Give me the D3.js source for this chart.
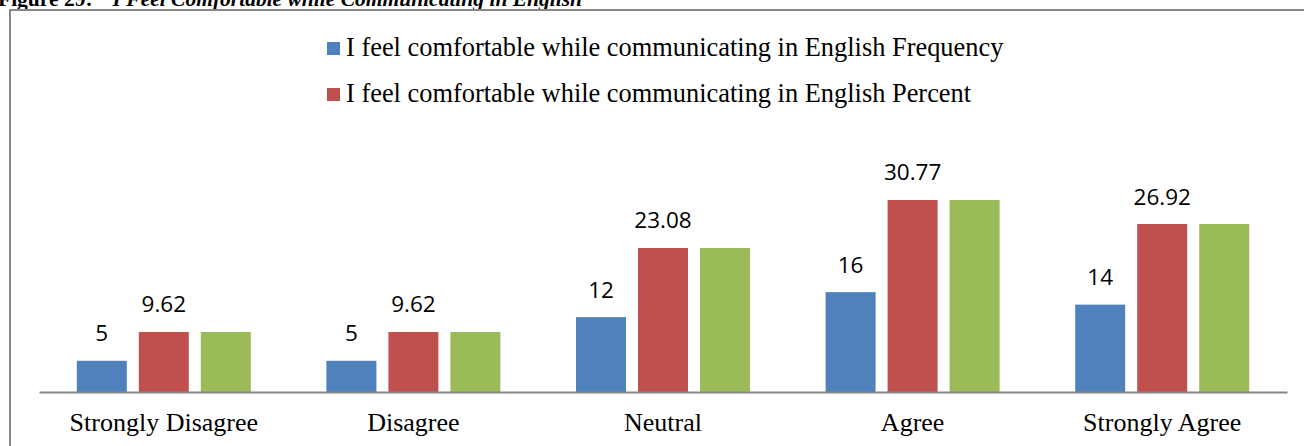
<!DOCTYPE html>
<html>
<head>
<meta charset="utf-8">
<script src="https://cdn.jsdelivr.net/npm/d3@7"></script>
<style>
  html, body { margin: 0; padding: 0; background: #fff; overflow: hidden; }
  svg { display: block; }
</style>
</head>
<body>
<svg id="chart" width="1304" height="446"></svg>
<script>
// Survey responses: "I feel comfortable while communicating in English"
const categories = ["Strongly Disagree", "Disagree", "Neutral", "Agree", "Strongly Agree"];
const frequency = [5, 5, 12, 16, 14];
const percent = [9.62, 9.62, 23.08, 30.77, 26.92];
const validPercent = [9.62, 9.62, 23.08, 30.77, 26.92];

const seriesNames = [
  "I feel comfortable while communicating in English Frequency",
  "I feel comfortable while communicating in English Percent",
  "I feel comfortable while communicating in English Valid Percent"
];
const seriesColors = ["#4F81BD", "#C0504D", "#9BBB59"];
const seriesValues = [frequency, percent, validPercent];
const labelled = [true, true, false];
const legendCount = 2;

const svg = d3.select("#chart");

// Caption above the frame (partly clipped by the page edge)
const title = svg.append("text")
  .attr("x", -2).attr("y", 6)
  .attr("font-family", "'Liberation Serif', 'Times New Roman', serif")
  .attr("font-size", 21.5).attr("font-weight", "bold")
  .attr("fill", "#000");
title.append("tspan").text("Figure 29:");
title.append("tspan").attr("dx", 20).attr("font-style", "italic")
  .text("I Feel Comfortable while Communicating in English");

// Chart frame
svg.append("rect")
  .attr("x", 10).attr("y", 10).attr("width", 1320).attr("height", 460)
  .attr("fill", "#fff").attr("stroke", "#878787").attr("stroke-width", 2);

// Scales
const x0 = d3.scaleBand().domain(categories).range([39, 1287]).paddingInner(0).paddingOuter(0);
const groupWidth = 174;
const x1 = d3.scaleBand().domain(d3.range(3)).range([0, groupWidth]).paddingInner(12 / 62).paddingOuter(0);
const y = d3.scaleLinear().domain([0, 35]).range([392, 173.6]);

// Bars
const groups = svg.append("g").selectAll("g")
  .data(categories)
  .join("g")
  .attr("transform", d => `translate(${x0(d) + (x0.bandwidth() - groupWidth) / 2},0)`);

groups.selectAll("rect")
  .data((d, i) => seriesValues.map((vals, s) => ({ s, v: vals[i] })))
  .join("rect")
  .attr("x", d => x1(d.s))
  .attr("width", x1.bandwidth())
  .attr("y", d => y(d.v))
  .attr("height", d => y(0) - y(d.v))
  .attr("fill", d => seriesColors[d.s]);

// Value labels
groups.selectAll("text.val")
  .data((d, i) => seriesValues.map((vals, s) => ({ s, v: vals[i] })).filter(d => labelled[d.s]))
  .join("text")
  .attr("class", "val")
  .attr("x", d => x1(d.s) + x1.bandwidth() / 2)
  .attr("y", d => y(d.v) - 19.5)
  .attr("text-anchor", "middle")
  .attr("font-family", "'Open Sans', 'Liberation Sans', sans-serif")
  .attr("font-size", 22.5)
  .attr("fill", "#000")
  .text(d => d.v);

// Category axis
const xAxis = svg.append("g")
  .attr("transform", `translate(0,${y(0)})`)
  .call(d3.axisBottom(x0).tickSize(0).tickPadding(21));
xAxis.select(".domain").attr("stroke", "#868686").attr("stroke-width", 2.2);
xAxis.selectAll("text")
  .attr("font-family", "'Liberation Serif', 'Times New Roman', serif")
  .attr("font-size", 26)
  .attr("fill", "#000");

// Legend
const legend = svg.append("g").selectAll("g")
  .data(seriesNames.slice(0, legendCount))
  .join("g")
  .attr("transform", (d, i) => `translate(327,${42 + i * 46})`);
legend.append("rect")
  .attr("width", 13).attr("height", 13)
  .attr("fill", (d, i) => seriesColors[i]);
legend.append("text")
  .attr("x", 19).attr("y", 13.5)
  .attr("font-family", "'Liberation Serif', 'Times New Roman', serif")
  .attr("font-size", 26.4)
  .attr("fill", "#000")
  .text(d => d);
</script>
</body>
</html>
